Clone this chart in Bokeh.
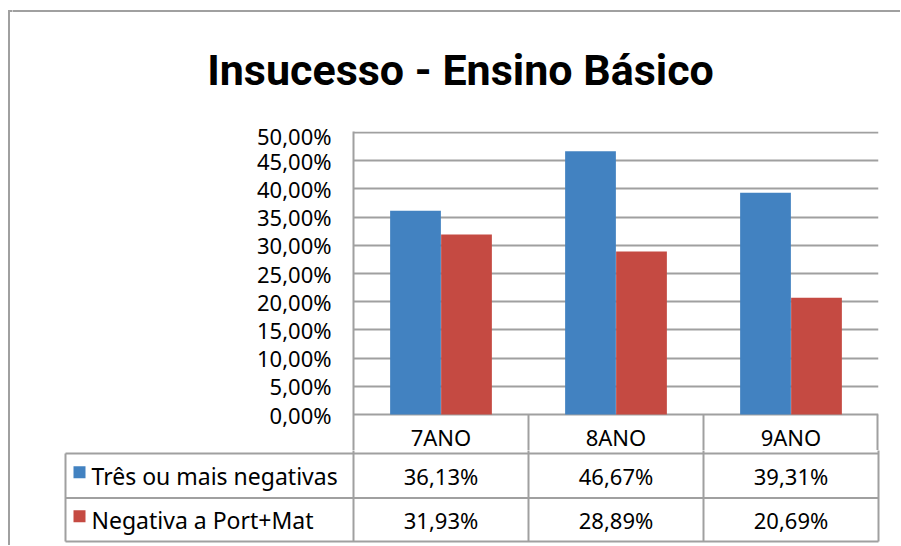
from bokeh.plotting import figure
from bokeh.layouts import column, row
from bokeh.models import FactorRange, Range1d, FixedTicker, ColumnDataSource
from bokeh.transform import dodge
from bokeh.core.properties import value
from bokeh.embed import file_html
from bokeh.resources import INLINE

# ---------------- data ----------------
title_text = "Insucesso - Ensino Básico"
categories = ["7ANO", "8ANO", "9ANO"]
series_names = ["Três ou mais negativas", "Negativa a Port+Mat"]
tres_ou_mais = [36.13, 46.67, 39.31]
port_mat = [31.93, 28.89, 20.69]
y_ticks = [0, 5, 10, 15, 20, 25, 30, 35, 40, 45, 50]
y_tick_labels = ["0,00%", "5,00%", "10,00%", "15,00%", "20,00%", "25,00%",
                 "30,00%", "35,00%", "40,00%", "45,00%", "50,00%"]


def pct(v):
    return f"{v:.2f}".replace(".", ",") + "%"


# ---------------- style / layout constants ----------------
FONT = "Noto Sans"
TITLE_FONT = "Roboto"
GRID = "#a0a0a0"
BLUE = "#4282c1"
RED = "#c54a42"
W = 900
H0 = 120            # title band      (page y 0..120)
H1 = 330            # chart band      (page y 120..450)
H2 = 95             # table band      (page y 450..545)
H = H0 + H1 + H2
LW = 12             # left strip width (outer border)
BW = W - LW         # width of the bands
AX_X, PLOT_R = 353, 878          # frame left / right (page px)
n = len(categories)
CAT_PX = (PLOT_R - AX_X) / n
Y0_PX, Y50_PX = 414, 132         # page px of 0 % and 50 %
YS = 50 / (Y0_PX - Y50_PX)       # data units per px
BORDER_X, BORDER_Y = 8.5, 10.5


def plain(width, height, xr, yr):
    fig = figure(width=width, height=height, x_range=xr, y_range=yr,
                 x_axis_type=None, y_axis_type=None, output_backend="svg",
                 toolbar_location=None, min_border=0)
    fig.outline_line_color = None
    fig.xgrid.visible = False
    fig.ygrid.visible = False
    return fig


# ---------- left strip: outer border, whole height ----------
pl = plain(LW, H, Range1d(0, LW), Range1d(H, 0))
pl.segment(x0=[BORDER_X, BORDER_X - 1], y0=[BORDER_Y, BORDER_Y], x1=[BORDER_X, LW + 2],
           y1=[H + 2, BORDER_Y], line_color=GRID, line_width=2)

# ---------- band 0: title + top border ----------
p0 = plain(BW, H0, Range1d(LW, W), Range1d(H0, 0))
p0.segment(x0=[LW - 2], y0=[BORDER_Y], x1=[W + 2], y1=[BORDER_Y], line_color=GRID,
           line_width=2)
p0.text(x=[460], y=[69], text=[title_text], text_align="center", text_baseline="middle",
        text_font=value(TITLE_FONT), text_font_size="43px", text_font_style="bold",
        text_color="black")

# ---------- band 1: chart ----------
top_pad = 11
frame_top = H0 + top_pad
frame_bot = H0 + H1
p1 = figure(width=BW, height=H1,
            x_range=FactorRange(*categories),
            y_range=Range1d(-(frame_bot - Y0_PX) * YS, 50 + (Y50_PX - frame_top) * YS),
            output_backend="svg", toolbar_location=None,
            min_border_left=AX_X - LW, min_border_right=W - PLOT_R,
            min_border_top=top_pad, min_border_bottom=0)
p1.outline_line_color = None
p1.xaxis.visible = False
p1.xgrid.visible = False

p1.yaxis.ticker = FixedTicker(ticks=y_ticks)
p1.yaxis.major_label_overrides = dict(zip(y_ticks, y_tick_labels))
p1.yaxis.major_label_text_font = FONT
p1.yaxis.major_label_text_font_size = "22px"
p1.yaxis.major_label_text_color = "black"
p1.yaxis.major_label_standoff = 22
p1.yaxis.major_tick_in = 0
p1.yaxis.major_tick_out = 0
p1.yaxis.minor_tick_line_color = None
p1.yaxis.axis_line_color = GRID
p1.yaxis.axis_line_width = 2

p1.ygrid.ticker = FixedTicker(ticks=y_ticks)
p1.ygrid.grid_line_color = GRID
p1.ygrid.grid_line_width = 2

src = ColumnDataSource(dict(cat=categories, a=tres_ou_mais, b=port_mat))
p1.vbar(x=dodge("cat", -0.1457, range=p1.x_range), top="a", width=0.29, source=src,
        fill_color=BLUE, line_color=None)
p1.vbar(x=dodge("cat", 0.1457, range=p1.x_range), top="b", width=0.29, source=src,
        fill_color=RED, line_color=None)

# header row of the data table: category names + separators
ybot1 = p1.y_range.start
inner = list(range(1, n))
p1.segment(x0=inner, y0=[0] * len(inner), x1=inner, y1=[ybot1] * len(inner),
           line_color=GRID, line_width=2)
p1.segment(x0=[n], y0=[0], x1=[n], y1=[ybot1], line_color=GRID, line_width=4)
p1.text(x="cat", y=-(436 - Y0_PX) * YS, text="cat", source=src, text_align="center",
        text_baseline="middle", text_font=value(FONT), text_font_size="22px",
        text_color="black")

# ---------- band 2: data table rows ----------
TOP2 = H0 + H1


def cx(px):
    return (px - AX_X) / CAT_PX


def ly(py):
    return py - TOP2


p2 = plain(BW, H2, Range1d(cx(LW), cx(W)), Range1d(H2, 0))
t_left = cx(65)
rows = [ly(453), ly(497.5), ly(541)]
p2.segment(x0=[t_left] * 3, y0=rows, x1=[n] * 3, y1=rows, line_color=GRID, line_width=2)
vx = [t_left] + list(range(n + 1))
p2.segment(x0=vx, y0=[rows[0]] + [-2] * (len(vx) - 1), x1=vx, y1=[rows[-1]] * len(vx),
           line_color=GRID, line_width=2)

row_mid = [(rows[0] + rows[1]) / 2, (rows[1] + rows[2]) / 2]
centers = [i + 0.5 for i in range(n)]
for vals, ym in ((tres_ou_mais, row_mid[0]), (port_mat, row_mid[1])):
    p2.text(x=centers, y=[ym] * len(vals), text=[pct(v) for v in vals], text_align="center",
            text_baseline="middle", text_font=value(FONT), text_font_size="22px",
            text_color="black")

for name, color, ym in zip(series_names, (BLUE, RED), row_mid):
    p2.rect(x=[cx(79)], y=[ym - 3.5], width=12 / CAT_PX, height=12, fill_color=color,
            line_color=None)
    p2.text(x=[cx(91)], y=[ym], text=[name], text_align="left", text_baseline="middle",
            text_font=value(FONT), text_font_size="23px", text_color="black")

# p1 is wrapped in its own row so that its frame is not aligned with the other bands
layout = row(pl, column(p0, row(p1), p2))
open("out.html", "w").write(file_html(layout, INLINE))
